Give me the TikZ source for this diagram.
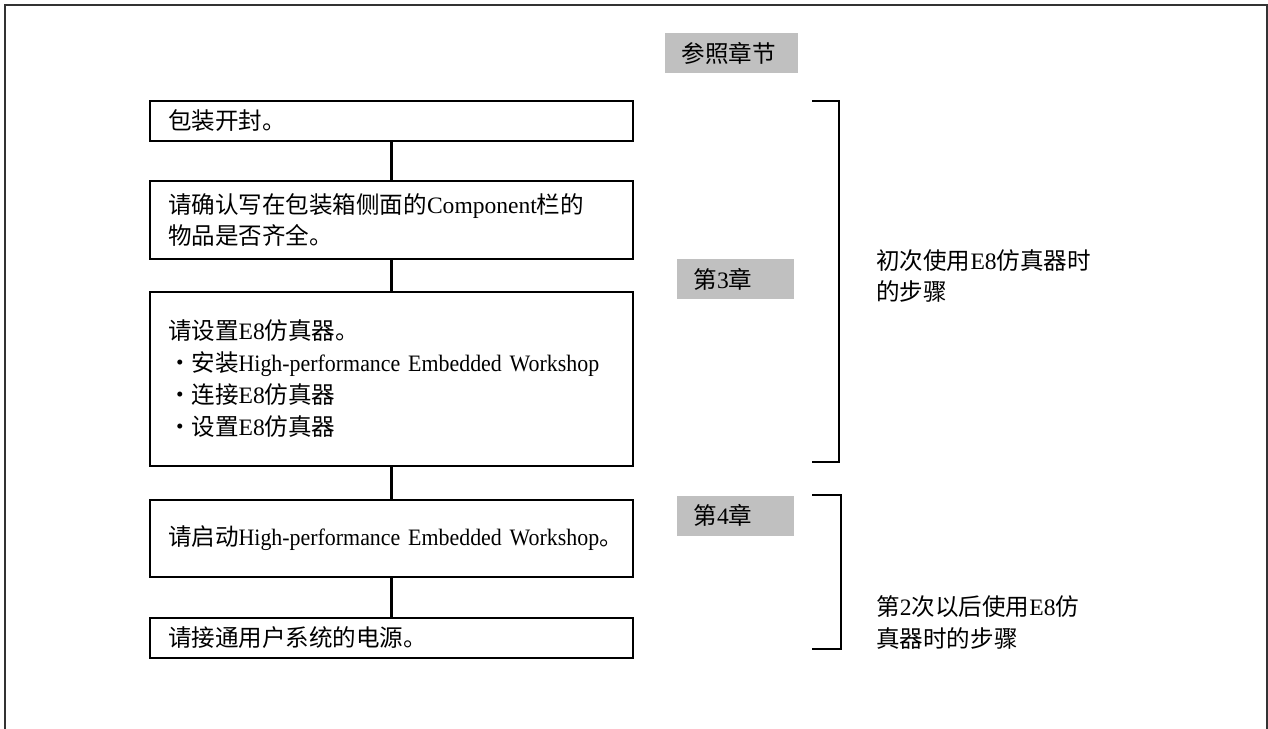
\documentclass[tikz,border=0pt]{standalone}
\usepackage{fontspec}
\setmainfont{Liberation Serif}
\newfontfamily\cjk{Noto Sans CJK SC}
\newcommand{\zh}[1]{{\cjk #1}}
\newcommand{\hew}{\mbox{\addfontfeature{FakeStretch=0.93}High-performance Embedded Workshop}}
\usetikzlibrary{positioning}
\definecolor{chapgray}{RGB}{192,192,192}

\begin{document}
\begin{tikzpicture}[
    node distance=0.8cm,
    every node/.style={font=\fontsize{13.4pt}{18.2pt}\selectfont},
    stepbox/.style={rectangle, draw, line width=1.1pt, text width=8.94cm, align=left, inner xsep=0.36cm, inner ysep=0pt, outer sep=0pt},
    chapter/.style={rectangle, fill=chapgray, align=left, inner xsep=0.33cm, inner ysep=0pt, minimum height=0.8cm},
    bracket/.style={line width=1.2pt},
    link/.style={line width=1.2pt},
    note/.style={align=left, anchor=west, inner sep=0pt}
]
\useasboundingbox (0,0) rectangle (25.36,-14.58);

% Outer frame (open at the bottom)
\draw[line width=1.2pt, black!80] (0.1,-14.58) |- (25.34,-0.1) -- (25.34,-14.58);

% Steps
\node[stepbox, minimum height=0.8cm] (unpack) at (7.83,-2.42) {\zh{包装开封。}};
\node[stepbox, minimum height=1.56cm, below=0.8cm of unpack] (check) {\zh{请确认写在包装箱侧面的}Component\zh{栏的}\\\zh{物品是否齐全。}};
\node[stepbox, minimum height=3.48cm, below=0.66cm of check] (setup) {\zh{请设置}E8\zh{仿真器。}\\
    \zh{・安装}\hew\\
    \zh{・连接}E8\zh{仿真器}\\
    \zh{・设置}E8\zh{仿真器}};
\node[stepbox, minimum height=1.54cm, below=0.68cm of setup] (start) {\zh{请启动}\hew\zh{。}};
\node[stepbox, minimum height=0.8cm, below=0.82cm of start] (power) {\zh{请接通用户系统的电源。}};

% Links
\draw[link] (unpack) -- (check);
\draw[link] (check) -- (setup);
\draw[link] (setup) -- (start);
\draw[link] (start) -- (power);

% Chapter references
\node[chapter, text width=2.0cm] (ref) at (14.63,-1.06) {\zh{参照章节}};
\node[chapter, text width=1.68cm] (chap3) at (14.71,-5.58) {\zh{第}3\zh{章}};
\node[chapter, text width=1.68cm] (chap4) at (14.71,-10.31) {\zh{第}4\zh{章}};

% Brackets
\draw[bracket] (16.24,-2.02) -| (16.78,-9.24) -- (16.24,-9.24);
\draw[bracket] (16.24,-9.9) -| (16.82,-12.98) -- (16.24,-12.98);

% Notes
\node[note] (first) at (17.52,-5.52) {\zh{初次使用}E8\zh{仿真器时}\\\zh{的步骤}};
\node[note] (again) at (17.52,-12.45) {\zh{第}2\zh{次以后使用}E8\zh{仿}\\\zh{真器时的步骤}};

\end{tikzpicture}
\end{document}
